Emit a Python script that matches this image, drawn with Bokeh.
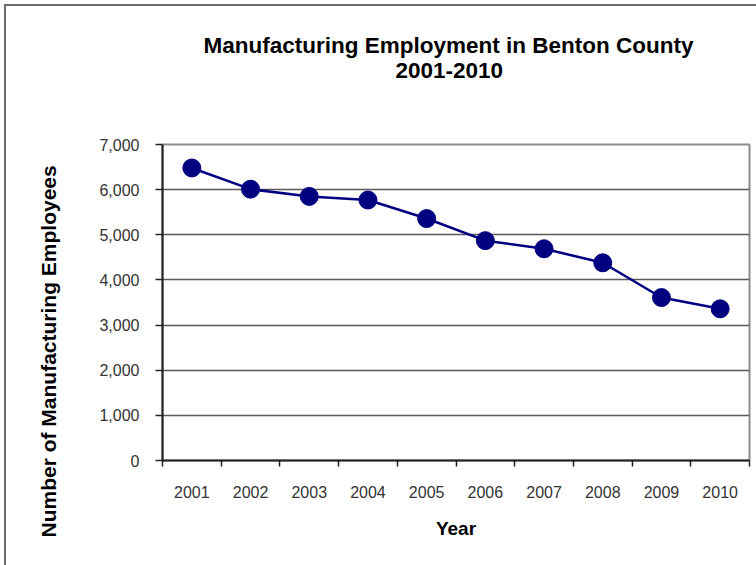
from bokeh.plotting import figure
from bokeh.models import FixedTicker, NumeralTickFormatter, Title, Range1d
from bokeh.embed import file_html
from bokeh.resources import INLINE

years = ["2001", "2002", "2003", "2004", "2005", "2006", "2007", "2008", "2009", "2010"]
employees = [6480, 6010, 5850, 5770, 5360, 4870, 4690, 4380, 3610, 3360]
y_ticks = [0, 1000, 2000, 3000, 4000, 5000, 6000, 7000]
title_line1 = "Manufacturing Employment in Benton County"
title_line2 = "2001-2010"
x_title = "Year"
y_title = "Number of Manufacturing Employees"

xs = list(range(1, len(years) + 1))

p = figure(width=756, height=565, output_backend="svg", toolbar_location=None,
           x_range=Range1d(0.5, len(years) + 0.5), y_range=Range1d(0, 7000),
           min_border_left=162, min_border_top=144, min_border_bottom=105, min_border_right=7)
# outer chart border: only its left and top edges show in the reference
p.stylesheets = [":host::after { content: ''; position: absolute; left: 4px; top: 4px; "
                 "right: 0; bottom: 0; border-left: 2px solid #6b6b6b; "
                 "border-top: 2px solid #6b6b6b; pointer-events: none; z-index: 10; }"]

p.background_fill_color = "white"
p.border_fill_color = "white"
p.outline_line_color = "#8c8c8c"
p.outline_line_width = 2

p.xgrid.visible = False
p.ygrid.ticker = FixedTicker(ticks=y_ticks)
p.ygrid.grid_line_color = "#5a5a5a"
p.ygrid.grid_line_width = 1.5

# x axis
xa = p.xaxis[0]
xa.ticker = FixedTicker(ticks=xs, minor_ticks=[x - 0.5 for x in xs] + [len(xs) + 0.5])
xa.major_label_overrides = {x: y for x, y in zip(xs, years)}
xa.major_tick_out = 0
xa.major_tick_in = 0
xa.minor_tick_out = 6
xa.minor_tick_in = 0
xa.minor_tick_line_color = "#222222"
xa.minor_tick_line_width = 1.5
xa.axis_line_color = "#222222"
xa.axis_line_width = 2
xa.major_label_text_font = "Liberation Sans"
xa.major_label_text_font_size = "16px"
xa.major_label_text_color = "#333333"
xa.major_label_standoff = 19
xa.axis_label = x_title
xa.axis_label_text_font = "Liberation Sans"
xa.axis_label_text_font_style = "bold"
xa.axis_label_text_font_size = "19px"
xa.axis_label_text_color = "black"
xa.axis_label_standoff = 17

# y axis
ya = p.yaxis[0]
ya.ticker = FixedTicker(ticks=y_ticks)
ya.formatter = NumeralTickFormatter(format="0,0")
ya.major_tick_out = 7
ya.major_tick_in = 0
ya.minor_tick_line_color = None
ya.major_tick_line_color = "#222222"
ya.major_tick_line_width = 1.5
ya.axis_line_color = "#222222"
ya.axis_line_width = 2
ya.major_label_text_font = "Liberation Sans"
ya.major_label_text_font_size = "16px"
ya.major_label_text_color = "#333333"
ya.major_label_standoff = 16

p.line(xs, employees, line_color="#000080", line_width=2.5)
p.scatter(xs, employees, size=18, fill_color="#000080", line_color="#000080")

def ttl(text, size, align, offset, standoff, va="middle"):
    return Title(text=text, text_font="Liberation Sans", text_font_style="bold",
                 text_font_size=size, text_color="black", align=align,
                 vertical_align=va, offset=offset, standoff=standoff)

spacer = Title(text=" ", text_font_size="2px", standoff=60)
p.add_layout(spacer, "above")
p.add_layout(ttl(title_line2, "22.5px", "left", 233, 3), "above")
p.add_layout(ttl(title_line1, "22.5px", "left", 41, 3), "above")
p.add_layout(ttl(y_title, "21px", "left", -77, 71), "left")

open("out.html", "w").write(file_html(p, INLINE))
